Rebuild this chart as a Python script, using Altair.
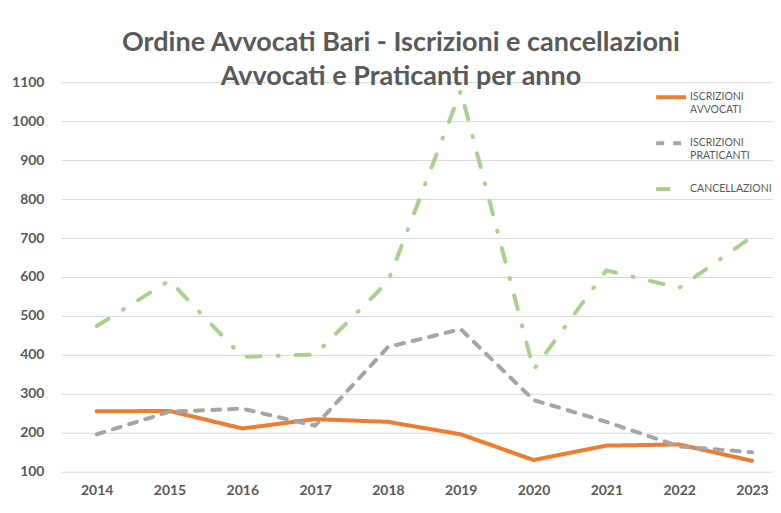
import altair as alt
import pandas as pd

years = ["2014", "2015", "2016", "2017", "2018", "2019", "2020", "2021", "2022", "2023"]
iscrizioni_avvocati = [255, 256, 211, 235, 228, 196, 130, 167, 170, 128]
iscrizioni_praticanti = [196, 254, 262, 218, 420, 466, 284, 228, 165, 150]
cancellazioni = [474, 591, 395, 401, 588, 1078, 362, 617, 572, 703]

series_names = ["ISCRIZIONI AVVOCATI", "ISCRIZIONI PRATICANTI", "CANCELLAZIONI"]
series_colors = ["#ED7D31", "#A5A5A5", "#A9D18E"]
series_dash = [[1, 0], [8, 9], [14, 17, 1, 17]]

rows = []
for name, vals in zip(series_names, [iscrizioni_avvocati, iscrizioni_praticanti, cancellazioni]):
    for y, v in zip(years, vals):
        rows.append({"anno": y, "valore": v, "serie": name})
df = pd.DataFrame(rows)

label_color = "#595959"

chart = alt.Chart(df).mark_line(strokeWidth=4, strokeCap="round", strokeJoin="round").encode(
    x=alt.X("anno:O", sort=years,
            scale=alt.Scale(type="point", padding=0.39, align=0.63),
            axis=alt.Axis(title=None, labelAngle=0, ticks=False, domain=False, grid=False,
                          labelFont="Lato", labelFontSize=14, labelFontWeight="bold",
                          labelColor=label_color, labelPadding=12)),
    y=alt.Y("valore:Q",
            scale=alt.Scale(domain=[100, 1100], nice=False, zero=False),
            axis=alt.Axis(title=None, values=list(range(100, 1101, 100)), format="d",
                          ticks=False, domain=False,
                          grid=True, gridColor="#D9D9D9", gridWidth=1,
                          labelFont="Lato", labelFontSize=14, labelFontWeight="bold",
                          labelColor=label_color, labelPadding=17)),
    color=alt.Color("serie:N", sort=series_names,
                    scale=alt.Scale(domain=series_names, range=series_colors),
                    legend=alt.Legend(title=None, orient="none", legendX=594, legendY=-2,
                                      padding=0,
                                      symbolType="stroke", symbolSize=900, symbolStrokeWidth=4,
                                      labelFont="Lato", labelFontSize=10.5, labelColor=label_color,
                                      labelExpr="split(datum.label, ' ')",
                                      rowPadding=11, labelOffset=2)),
    strokeDash=alt.StrokeDash("serie:N", sort=series_names,
                              scale=alt.Scale(domain=series_names, range=series_dash),
                              legend=None),
).properties(
    width=713,
    height=390,
    padding={"left": 3, "top": 21, "right": 0, "bottom": 0},
    title=alt.TitleParams(
        text=["Ordine Avvocati Bari - Iscrizioni e cancellazioni", "Avvocati e Praticanti per anno"],
        font="Lato", fontSize=27, fontWeight="bold", color=label_color,
        lineHeight=34, anchor="middle", dx=-16, offset=-16,
    ),
).configure_view(stroke=None)

chart.save("out.html", embed_options={"renderer": "svg", "actions": False})
